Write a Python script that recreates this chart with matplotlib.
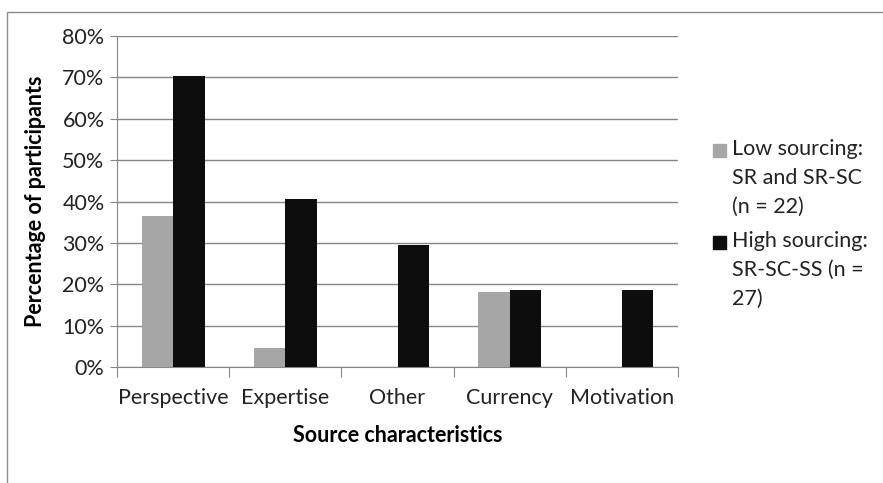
import matplotlib.pyplot as plt
import numpy as np
from matplotlib.patches import Rectangle
from matplotlib.ticker import PercentFormatter

categories = ['Perspective', 'Expertise', 'Other', 'Currency', 'Motivation']
low = [36.4, 4.5, 0, 18.2, 0]
high = [70.4, 40.7, 29.6, 18.5, 18.5]
labels = ['Low sourcing:\nSR and SR-SC\n(n = 22)', 'High sourcing:\nSR-SC-SS (n =\n27)']
colors = ['#a6a6a6', '#0d0d0d']

plt.rcParams['font.family'] = ['Lato', 'DejaVu Sans']
fs = 15.5
W, H = 883, 483

fig = plt.figure(figsize=(8.83, 4.83), dpi=100)
ax = fig.add_axes([117 / W, 1 - 367 / H, (678 - 117) / W, (367 - 36) / H])

x = np.arange(len(categories))
w = 0.28
ax.bar(x - w / 2, low, w, color=colors[0], zorder=3)
ax.bar(x + w / 2, high, w, color=colors[1], zorder=3)

ax.set_xlim(-0.5, len(categories) - 0.5)
ax.set_ylim(0, 80)
ax.set_yticks(np.arange(0, 81, 10))
ax.yaxis.set_major_formatter(PercentFormatter(decimals=0))
ax.set_xticks(np.arange(-0.5, len(categories), 1))
ax.set_xticklabels([])
ax.set_xticks(x, minor=True)
ax.set_xticklabels(categories, minor=True)
ax.tick_params(axis='x', which='minor', length=0, pad=15, labelsize=fs, colors='#222222')
ax.tick_params(axis='x', which='major', length=7, color='#868686')
ax.tick_params(axis='y', length=5, color='#868686', labelsize=fs, labelcolor='#222222', pad=4)

ax.grid(axis='y', color='#868686', lw=1, zorder=0)
for s in ['top', 'right']:
    ax.spines[s].set_visible(False)
ax.spines['left'].set_color('#868686')
ax.spines['bottom'].set_color('#868686')

ax.set_xlabel('Source characteristics', fontsize=fs, fontweight='bold', labelpad=12)
ax.set_ylabel('Percentage of participants', fontsize=fs, fontweight='bold', labelpad=12)

# legend, drawn by hand so the swatch sits beside the first line
tops = [139, 231]
for lab, col, top in zip(labels, colors, tops):
    fig.add_artist(Rectangle((713 / W, 1 - (top + 18) / H), 13 / W, 13 / H,
                             transform=fig.transFigure, color=col))
    fig.text(732 / W, 1 - top / H, lab, fontsize=fs, color='#222222',
             va='top', ha='left', linespacing=1.55)

fig.add_artist(Rectangle((7 / W, -0.1), 1.2, (H - 12) / H + 0.1,
                         transform=fig.transFigure, fill=False,
                         edgecolor='#8c8c8c', lw=1))

fig.savefig('out.png')
